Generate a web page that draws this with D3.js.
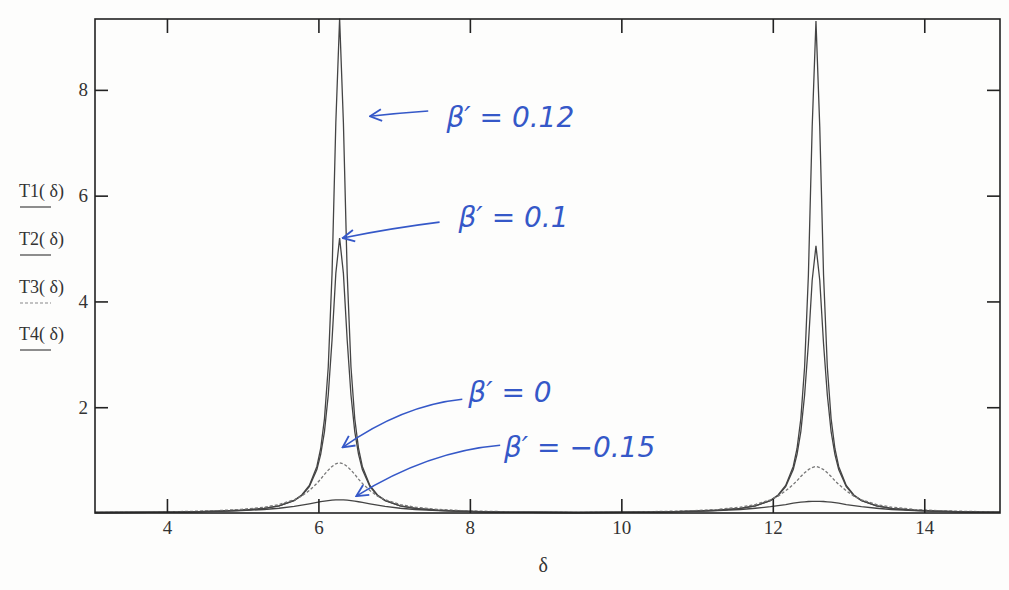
<!DOCTYPE html>
<html lang="en">
<head>
  <meta charset="UTF-8">
  <title>T(δ)</title>
  <script src="https://cdn.jsdelivr.net/npm/d3@7.6.1/dist/d3.min.js"></script>
  <style>
    body { margin: 0; background: #fdfdfc; }
    svg { display: block; }
    text { font-family: "Liberation Serif", "DejaVu Serif", serif; fill: #333; }
    .note { font-family: "DejaVu Sans", sans-serif; font-style: italic; fill: #3558c8; }
  </style>
</head>
<body>
  <div id="svg"></div>
  <script>
    const width = 1009
    const height = 590
    const margin = { left: 95, right: 9, top: 19, bottom: 77 }

    // δ sample points (two resonance peaks)
    const delta = [
      3.05, 3.8, 4.28, 4.68, 4.98, 5.28, 5.48, 5.68, 5.78, 5.88, 5.98, 6.03, 6.08, 6.13, 6.18, 6.23, 6.28,
      6.33, 6.38, 6.43, 6.48, 6.53, 6.58, 6.68, 6.78, 6.88, 7.08, 7.28, 7.58, 7.88, 8.28, 8.78, 9.42,
      10.06, 10.57, 10.97, 11.27, 11.57, 11.77, 11.97, 12.07, 12.17, 12.27, 12.32, 12.37, 12.42, 12.47, 12.52, 12.57,
      12.62, 12.67, 12.72, 12.77, 12.82, 12.87, 12.97, 13.07, 13.17, 13.37, 13.57, 13.87, 14.17, 14.57, 15.0
    ]
    // β' = 0.12
    const T1 = [
      0.009, 0.014, 0.022, 0.034, 0.052, 0.087, 0.135, 0.24, 0.34, 0.52, 0.88, 1.22, 1.78, 2.76, 4.53, 7.38, 9.35,
      7.38, 4.53, 2.76, 1.78, 1.22, 0.88, 0.52, 0.34, 0.24, 0.135, 0.087, 0.052, 0.034, 0.022, 0.014, 0.009,
      0.014, 0.022, 0.034, 0.052, 0.087, 0.135, 0.24, 0.34, 0.52, 0.88, 1.22, 1.78, 2.76, 4.5, 7.3, 9.3,
      7.3, 4.5, 2.76, 1.78, 1.22, 0.88, 0.52, 0.34, 0.24, 0.135, 0.087, 0.052, 0.034, 0.022, 0.015
    ]
    // β' = 0.1
    const T2 = [
      0.009, 0.014, 0.022, 0.034, 0.052, 0.087, 0.134, 0.233, 0.33, 0.50, 0.82, 1.11, 1.54, 2.23, 3.27, 4.53, 5.2,
      4.53, 3.27, 2.23, 1.54, 1.11, 0.82, 0.50, 0.33, 0.233, 0.134, 0.087, 0.052, 0.034, 0.022, 0.014, 0.009,
      0.014, 0.022, 0.034, 0.052, 0.087, 0.134, 0.233, 0.33, 0.50, 0.82, 1.11, 1.54, 2.23, 3.2, 4.4, 5.05,
      4.4, 3.2, 2.23, 1.54, 1.11, 0.82, 0.50, 0.33, 0.233, 0.134, 0.087, 0.052, 0.034, 0.022, 0.015
    ]
    // β' = 0
    const T3 = [
      0.012, 0.019, 0.030, 0.046, 0.068, 0.109, 0.16, 0.25, 0.32, 0.425, 0.56, 0.64, 0.73, 0.81, 0.88, 0.93, 0.95,
      0.93, 0.88, 0.81, 0.73, 0.64, 0.56, 0.425, 0.32, 0.25, 0.16, 0.109, 0.068, 0.046, 0.030, 0.019, 0.012,
      0.019, 0.030, 0.046, 0.068, 0.109, 0.16, 0.25, 0.32, 0.42, 0.54, 0.61, 0.69, 0.76, 0.82, 0.86, 0.88,
      0.86, 0.82, 0.76, 0.69, 0.61, 0.54, 0.42, 0.32, 0.25, 0.16, 0.109, 0.068, 0.046, 0.030, 0.020
    ]
    // β' = -0.15
    const T4 = [
      0.009, 0.014, 0.021, 0.031, 0.044, 0.066, 0.09, 0.125, 0.148, 0.173, 0.20, 0.213, 0.225, 0.235, 0.243, 0.248, 0.25,
      0.248, 0.243, 0.235, 0.225, 0.213, 0.20, 0.173, 0.148, 0.125, 0.09, 0.066, 0.044, 0.031, 0.021, 0.014, 0.009,
      0.014, 0.021, 0.031, 0.044, 0.066, 0.09, 0.12, 0.14, 0.16, 0.185, 0.196, 0.205, 0.212, 0.217, 0.22, 0.22,
      0.22, 0.217, 0.212, 0.205, 0.196, 0.185, 0.16, 0.14, 0.12, 0.09, 0.066, 0.044, 0.031, 0.021, 0.015
    ]

    const seriesNames = ['T1( δ)', 'T2( δ)', 'T3( δ)', 'T4( δ)']
    const xTicks = [4, 6, 8, 10, 12, 14]
    const yTicks = [2, 4, 6, 8]

    // handwritten notes: label, text anchor (δ, T), arrow start (δ, T), arrow tip (δ, T)
    const noteLabels = ["β′ = 0.12", "β′ = 0.1", "β′ = 0", "β′ = −0.15"]
    const noteText = [[7.69, 7.3], [7.85, 5.4], [7.98, 2.1], [8.45, 1.05]]
    const noteFrom = [[7.45, 7.6], [7.6, 5.5], [7.9, 2.15], [8.4, 1.28]]
    const noteTo = [[6.68, 7.5], [6.32, 5.2], [6.32, 1.24], [6.5, 0.32]]

    const x = d3.scaleLinear().domain([3.05, 15]).range([margin.left, width - margin.right])
    const y = d3.scaleLinear().domain([0, 9.34]).range([height - margin.bottom, margin.top])

    const svg = d3.select('#svg').append('svg')
      .attr('width', width)
      .attr('height', height)

    const series = [T1, T2, T3, T4]
    const dashes = [null, null, '3,2', null]
    const line = d3.line().x(d => x(d[0])).y(d => y(d[1]))

    series.forEach((s, k) => {
      svg.append('path')
        .datum(delta.map((d, i) => [d, s[i]]))
        .attr('d', line)
        .attr('fill', 'none')
        .attr('stroke', k == 2 ? '#777' : '#444')
        .attr('stroke-width', 1.3)
        .attr('stroke-dasharray', dashes[k])
    })

    // frame + inside ticks (Mathcad style)
    const x0 = margin.left, x1 = width - margin.right
    const y0 = height - margin.bottom, y1 = margin.top
    svg.append('rect')
      .attr('x', x0).attr('y', y1)
      .attr('width', x1 - x0).attr('height', y0 - y1)
      .attr('fill', 'none').attr('stroke', '#222').attr('stroke-width', 1.6)

    svg.append('g').attr('transform', `translate(0,${y0})`)
      .call(d3.axisBottom(x).tickValues(xTicks).tickSize(-14).tickPadding(8).tickFormat(d3.format('d')))
    svg.append('g').attr('transform', `translate(0,${y1})`)
      .call(d3.axisTop(x).tickValues(xTicks).tickSize(-14).tickFormat(''))
    svg.append('g').attr('transform', `translate(${x0},0)`)
      .call(d3.axisLeft(y).tickValues(yTicks).tickSize(-13).tickPadding(7).tickFormat(d3.format('d')))
    svg.append('g').attr('transform', `translate(${x1},0)`)
      .call(d3.axisRight(y).tickValues(yTicks).tickSize(-13).tickFormat(''))

    svg.selectAll('.domain').remove()
    svg.selectAll('.tick line').attr('stroke', '#222').attr('stroke-width', 1.6)
    svg.selectAll('.tick text').attr('font-size', 19).attr('fill', '#333')

    svg.append('text')
      .attr('x', x(8.97)).attr('y', height - 18)
      .attr('text-anchor', 'middle').attr('font-size', 20)
      .text('δ')

    // legend on the left
    const legendY = [197, 245, 293, 340]
    seriesNames.forEach((n, k) => {
      svg.append('text').attr('x', 19).attr('y', legendY[k]).attr('font-size', 18).text(n)
      svg.append('line')
        .attr('x1', 20).attr('x2', 51)
        .attr('y1', legendY[k] + 10).attr('y2', legendY[k] + 10)
        .attr('stroke', k == 2 ? '#888' : '#444').attr('stroke-width', 1.2)
        .attr('stroke-dasharray', dashes[k])
    })

    // handwritten annotations
    svg.append('defs').append('marker')
      .attr('id', 'head').attr('viewBox', '0 0 12 12')
      .attr('refX', 11).attr('refY', 6)
      .attr('markerWidth', 14).attr('markerHeight', 14)
      .attr('orient', 'auto').attr('markerUnits', 'userSpaceOnUse')
      .append('path').attr('d', 'M1,1 L11,6 L1,11')
      .attr('fill', 'none').attr('stroke', '#3558c8').attr('stroke-width', 1.6)

    noteLabels.forEach((lab, k) => {
      const [sx, sy] = [x(noteFrom[k][0]), y(noteFrom[k][1])]
      const [ex, ey] = [x(noteTo[k][0]), y(noteTo[k][1])]
      const cx = (sx + ex) / 2, cy = Math.min(sy, ey) + (k == 0 ? 2 : 6)
      svg.append('path')
        .attr('d', `M${sx},${sy} Q${cx},${cy} ${ex},${ey}`)
        .attr('fill', 'none').attr('stroke', '#3558c8').attr('stroke-width', 1.6)
        .attr('marker-end', 'url(#head)')
      svg.append('text').attr('class', 'note')
        .attr('x', x(noteText[k][0])).attr('y', y(noteText[k][1]))
        .attr('font-size', 28)
        .text(lab)
    })
  </script>
</body>
</html>
